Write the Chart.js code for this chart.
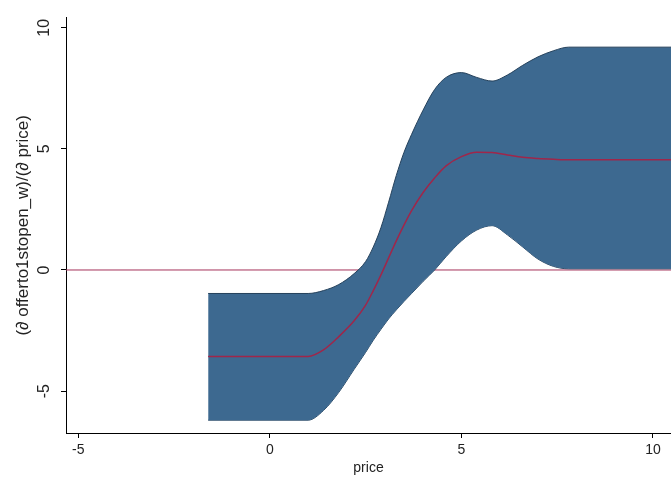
<!DOCTYPE html>
<html>
<head>
<meta charset="utf-8">
<script src="https://cdn.jsdelivr.net/npm/chart.js@4/dist/chart.umd.min.js"></script>
<style>
  body { margin: 0; background: #fff; }
  #cv { display: block; }
</style>
</head>
<body>
<canvas id="cv" width="671" height="481"></canvas>
<script>
// marginal effect of price, with confidence band
var priceGrid = [-1.61, 1.0, 1.4, 1.8, 2.2, 2.5, 2.7, 2.9, 3.1, 3.3, 3.5, 3.7, 4.0, 4.3, 4.6, 5.0, 5.4, 5.8, 6.2, 6.6, 7.0, 7.4, 7.8, 8.2, 10.47];
var upperCI = [-0.97, -0.97, -0.85, -0.6, -0.15, 0.35, 0.95, 1.75, 2.8, 3.9, 4.85, 5.6, 6.6, 7.45, 7.95, 8.15, 7.95, 7.8, 8.05, 8.45, 8.8, 9.05, 9.2, 9.2, 9.2];
var effect  = [-3.57, -3.57, -3.3, -2.75, -2.1, -1.45, -0.85, -0.2, 0.5, 1.2, 1.85, 2.45, 3.2, 3.8, 4.3, 4.68, 4.86, 4.85, 4.75, 4.65, 4.6, 4.57, 4.55, 4.55, 4.55];
var lowerCI = [-6.2, -6.2, -5.8, -5.05, -4.1, -3.4, -2.9, -2.45, -2.02, -1.65, -1.3, -0.97, -0.47, 0.0, 0.55, 1.2, 1.65, 1.83, 1.45, 0.95, 0.45, 0.15, 0.05, 0.05, 0.05];
var xTicks = [-5, 0, 5, 10];
var yTicks = [-5, 0, 5, 10];
var xRange = [-5.32, 10.47];
var yRange = [-6.73, 10.42];

function pts(ys) {
    var out = [];
    for (var i = 0; i < priceGrid.length; i++) out.push({x: priceGrid[i], y: ys[i]});
    return out;
}

var family = "'Liberation Sans', Arial, sans-serif";
var font = {family: family, size: 14};
var bandColor = 'rgb(61,105,144)';
var redLine = 'rgb(160,38,74)';

new Chart(document.getElementById('cv').getContext('2d'), {
    type: 'line',
    data: {
        datasets: [
            {
                data: [{x: xRange[0], y: 0}, {x: xRange[1], y: 0}],
                borderColor: 'rgb(165,50,90)',
                borderWidth: 1,
                pointRadius: 0,
                fill: false,
                order: 3
            },
            {
                data: pts(upperCI),
                borderColor: 'rgb(38,66,92)',
                borderWidth: 1,
                backgroundColor: bandColor,
                pointRadius: 0,
                cubicInterpolationMode: 'monotone',
                fill: '+1',
                order: 2
            },
            {
                data: pts(lowerCI),
                borderColor: 'rgb(38,66,92)',
                borderWidth: 1,
                pointRadius: 0,
                cubicInterpolationMode: 'monotone',
                fill: false,
                order: 2
            },
            {
                data: pts(effect),
                borderColor: redLine,
                borderWidth: 1.5,
                pointRadius: 0,
                cubicInterpolationMode: 'monotone',
                fill: false,
                order: 1
            }
        ]
    },
    options: {
        responsive: false,
        animation: false,
        layout: {padding: {top: 10, right: 0, left: 0, bottom: 0}},
        plugins: {legend: {display: false}, tooltip: {enabled: false}},
        scales: {
            x: {
                type: 'linear',
                min: xRange[0],
                max: xRange[1],
                afterBuildTicks: function (s) { s.ticks = xTicks.map(function (v) { return {value: v}; }); },
                afterFit: function (s) { s.height = 48; },
                border: {color: '#000', width: 1},
                grid: {drawOnChartArea: false, drawTicks: true, tickLength: 5, color: '#000'},
                ticks: {font: font, color: '#222', padding: 4, maxRotation: 0, autoSkip: false},
                title: {display: true, text: 'price', font: font, color: '#222', padding: {top: 0, bottom: 4}}
            },
            y: {
                type: 'linear',
                min: yRange[0],
                max: yRange[1],
                afterBuildTicks: function (s) { s.ticks = yTicks.map(function (v) { return {value: v}; }); },
                afterFit: function (s) { s.width = 66; },
                border: {color: '#000', width: 1},
                grid: {drawOnChartArea: false, drawTicks: true, tickLength: 5, color: '#000'},
                ticks: {font: {family: family, size: 16}, color: '#222', padding: 8, minRotation: 90, maxRotation: 90, crossAlign: 'center', autoSkip: false},
                title: {display: true, text: '(∂ offerto1stopen_w)/(∂ price)', font: {family: family, size: 17}, color: '#222', padding: {top: 13, bottom: 0}}
            }
        }
    }
});
</script>
</body>
</html>
